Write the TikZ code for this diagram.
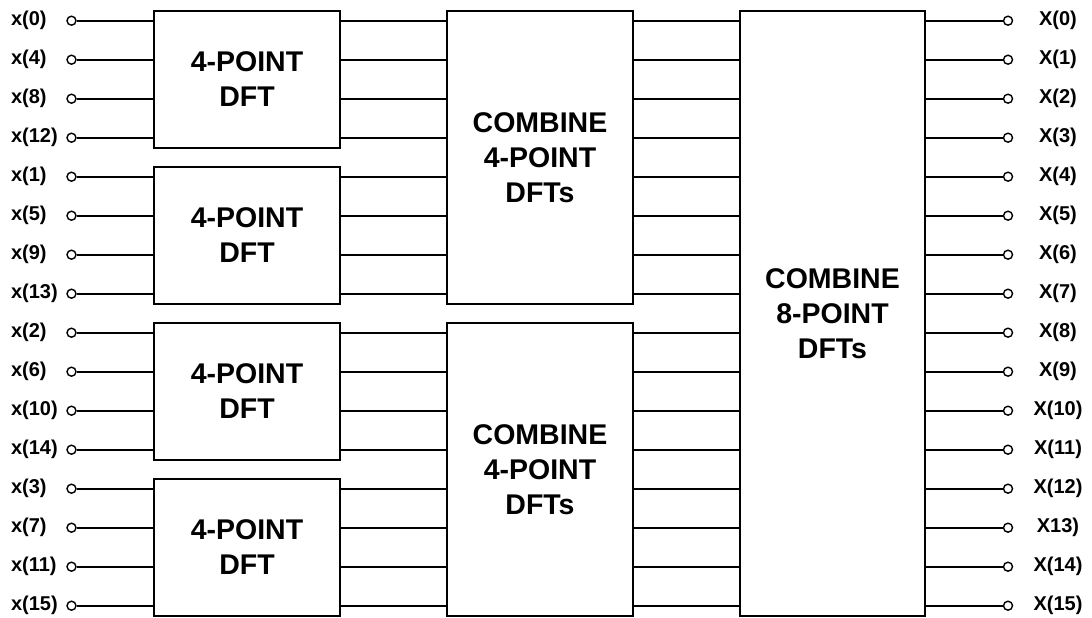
\documentclass[tikz,border=0pt]{standalone}
\usepackage{fontspec}
\setmainfont{Liberation Sans}

\begin{document}
\begin{tikzpicture}[x=1pt, y=-1pt, line width=2pt,
    blk/.style={draw, minimum width=186pt, inner sep=0pt, align=center,
        font=\fontsize{28.5}{35}\selectfont\bfseries},
    pin/.style={draw, circle, minimum size=9pt, inner sep=0pt, line width=1.4pt},
    lbl/.style={inner sep=0pt, font=\fontsize{20}{20}\selectfont\bfseries}]
    \useasboundingbox (0,0) rectangle (1092,618);

    % blocks
    \foreach \k in {1,...,4}
        \node[blk, minimum height=137pt] (dft\k) at (247, {20.7+39*(4*\k-4+1.5)}) {4-POINT\\DFT};
    \foreach \j in {1,2}
        \node[blk, minimum height=293pt] (comb\j) at (540, {20.7+39*(8*\j-8+3.5)}) {COMBINE\\4-POINT\\DFTs};
    \node[blk, minimum width=185pt, minimum height=605pt] (fin) at (832.5, 313.2) {COMBINE\\8-POINT\\DFTs};

    % inputs
    \foreach \i/\n in {0/0,1/4,2/8,3/12,4/1,5/5,6/9,7/13,8/2,9/6,10/10,11/14,12/3,13/7,14/11,15/15} {
        \node[lbl, anchor=west] (lin\i) at (10, {20.7+39*\i}) {x(\n)};
        \node[pin] (in\i) at (71.5, {20.7+39*\i}) {};
    }

    % outputs
    \foreach \i in {0,...,15} {
        \node[pin] (out\i) at (1008, {20.7+39*\i}) {};
        \node[lbl] (lout\i) at (1058, {20.7+39*\i}) {\ifnum\i=13 X13)\else X(\i)\fi};
    }

    % connectors
    \foreach \i in {0,...,15} {
        \pgfmathtruncatemacro{\k}{int(\i/4)+1}
        \pgfmathtruncatemacro{\j}{int(\i/8)+1}
        \draw (in\i) -- (in\i -| dft\k.west);
        \draw (in\i -| dft\k.east) -- (in\i -| comb\j.west);
        \draw (in\i -| comb\j.east) -- (in\i -| fin.west);
        \draw (in\i -| fin.east) -- (out\i);
    }
\end{tikzpicture}
\end{document}
